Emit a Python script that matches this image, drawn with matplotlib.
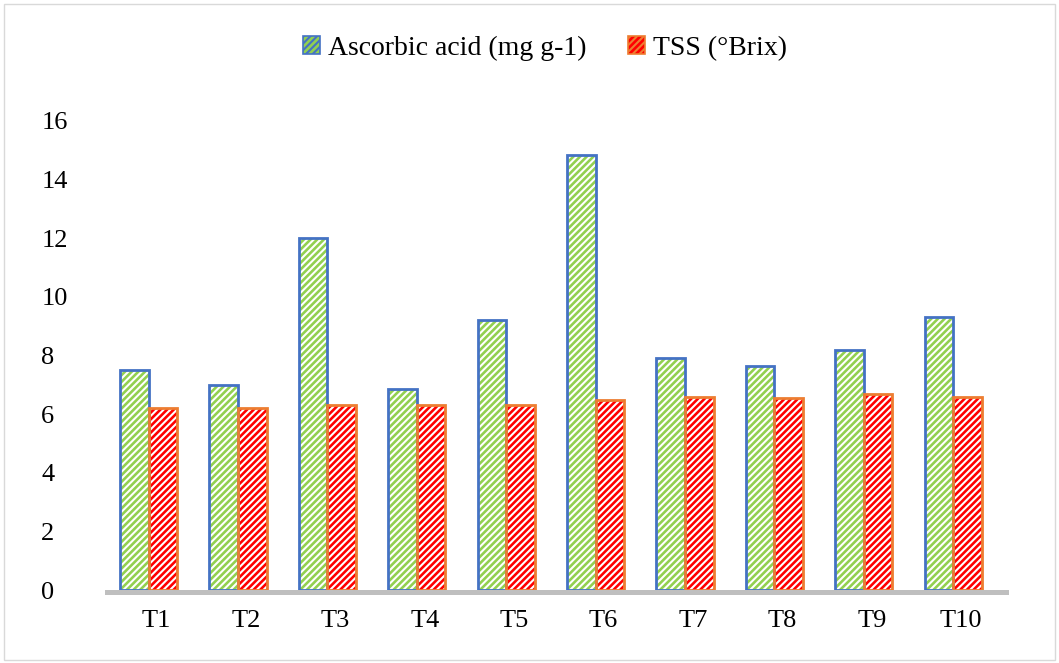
import matplotlib.pyplot as plt
import numpy as np
from matplotlib.patches import Patch, Rectangle

plt.rcParams['font.family'] = ['Liberation Serif', 'DejaVu Serif']
plt.rcParams['hatch.linewidth'] = 1.5

# data
treatments = ['T1', 'T2', 'T3', 'T4', 'T5', 'T6', 'T7', 'T8', 'T9', 'T10']
ascorbic = [7.5, 7.0, 12.0, 6.85, 9.2, 14.85, 7.9, 7.65, 8.2, 9.3]
tss = [6.2, 6.2, 6.3, 6.3, 6.3, 6.5, 6.6, 6.55, 6.7, 6.6]

green = '#92d050'
blue = '#4472c4'
red = '#ff0000'
orange = '#ed7d31'

fig = plt.figure(figsize=(10.59, 6.63), dpi=100)
ax = fig.add_axes([0.1058, 0.110, 0.844, 0.7075])

x = np.arange(len(treatments))
w = 0.32
off = 0.09  # bars sit a bit left of the labels (3d look in the original)

# hatched fills (white stripes on colour)
ax.bar(x - w/2 - off, ascorbic, w, color=green, edgecolor='white', hatch='/////', lw=0, zorder=2)
ax.bar(x + w/2 - off, tss, w, color=red, edgecolor='white', hatch='/////', lw=0, zorder=2)
# outlines
ax.bar(x - w/2 - off, ascorbic, w, fill=False, edgecolor=blue, lw=2, zorder=3)
ax.bar(x + w/2 - off, tss, w, fill=False, edgecolor=orange, lw=2, zorder=3)

# grey floor
ax.add_patch(Rectangle((-0.58, -0.18), 10.12, 0.18, color='#bfbfbf',
                       clip_on=False, zorder=1, lw=0))

ax.set_xlim(-0.5, len(treatments) - 0.5)
ax.set_ylim(0, 16)
ax.set_yticks(range(0, 17, 2))
ax.set_xticks(x)
ax.set_xticklabels(treatments)
ax.tick_params(axis='both', length=0, labelsize=19, colors='#000000')
ax.tick_params(axis='y', pad=51)
ax.tick_params(axis='x', pad=14)
for lab in ax.get_yticklabels():
    lab.set_horizontalalignment('left')
for s in ax.spines.values():
    s.set_visible(False)

handles = [Patch(facecolor=green, edgecolor=blue, hatch='/////', lw=1.2),
           Patch(facecolor=red, edgecolor=orange, hatch='/////', lw=1.2)]
fig.legend(handles, ['Ascorbic acid (mg g-1)', 'TSS (°Brix)'], loc='center',
           bbox_to_anchor=(0.515, 0.927), ncol=2, frameon=False, fontsize=20,
           handlelength=0.6, handleheight=0.6, columnspacing=1.5, handletextpad=0.3)

# outer border
fig.patches.append(Rectangle((0.004, 0.004), 0.992, 0.99, transform=fig.transFigure,
                             fill=False, edgecolor='#d9d9d9', lw=1))

fig.savefig('out.png', dpi=100)
